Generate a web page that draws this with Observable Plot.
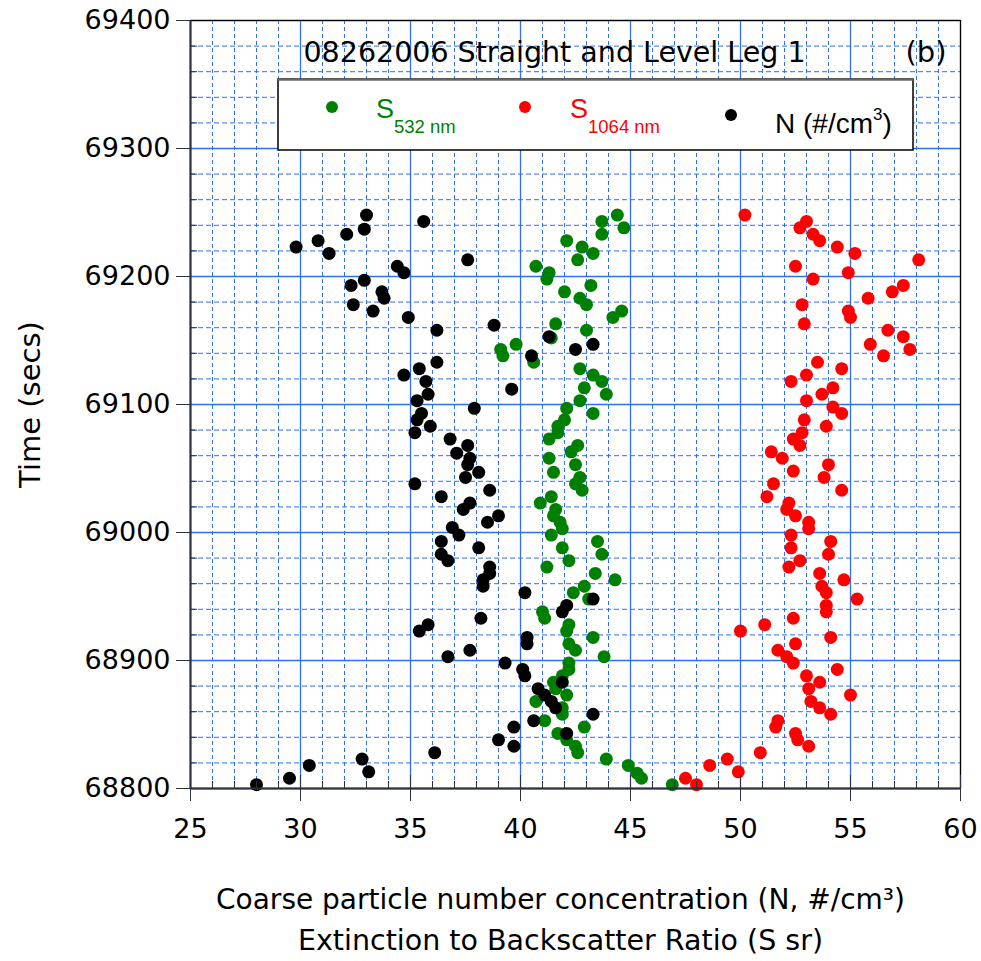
<!DOCTYPE html>
<html><head><meta charset="utf-8">
<script src="https://cdn.jsdelivr.net/npm/d3@7"></script>
<script src="https://cdn.jsdelivr.net/npm/@observablehq/plot@0.6"></script>
<style>body{margin:0;background:#fff}</style>
</head><body><div id="chart"></div>
<script>
// N (#/cm3) : [value, time]
const nPoints = [[33.0,69248],[32.9,69237],[35.6,69243],[32.1,69233],[30.8,69228],[29.8,69223],[31.3,69218],[37.6,69213],[34.4,69208],[34.7,69203],[32.9,69197],[32.3,69193],[33.7,69188],[33.8,69183],[32.4,69178],[33.3,69173],[34.9,69168],[36.2,69158],[38.8,69162],[41.3,69153],[43.3,69147],[42.5,69143],[40.5,69138],[36.2,69133],[35.4,69128],[34.7,69123],[35.7,69118],[39.6,69112],[35.8,69108],[35.3,69103],[37.9,69097],[35.5,69093],[35.3,69088],[35.9,69083],[35.2,69078],[36.8,69073],[37.6,69068],[37.1,69062],[37.7,69058],[37.6,69053],[38.1,69047],[37.5,69043],[35.2,69038],[38.6,69033],[36.4,69028],[37.7,69023],[37.4,69018],[39.0,69013],[38.5,69008],[36.9,69004],[37.2,68998],[36.4,68993],[38.1,68988],[36.4,68983],[36.7,68978],[38.6,68973],[38.6,68968],[38.3,68963],[38.3,68958],[40.2,68953],[43.3,68948],[42.1,68943],[41.9,68938],[38.2,68933],[35.8,68928],[35.4,68923],[40.3,68918],[40.3,68913],[37.7,68908],[36.7,68903],[39.3,68898],[40.1,68893],[40.2,68888],[41.9,68883],[40.8,68878],[41.1,68873],[41.4,68868],[41.6,68863],[43.3,68858],[40.6,68853],[39.7,68848],[42.1,68843],[39.0,68838],[39.7,68833],[36.1,68828],[32.8,68823],[30.4,68818],[33.1,68813],[29.5,68808],[28.0,68803]];
// S 532 nm : [value, time]
const s532Points = [[44.4,69248],[43.7,69243],[44.7,69238],[43.7,69233],[42.1,69228],[42.8,69223],[43.3,69218],[42.6,69213],[40.7,69208],[41.3,69203],[41.2,69198],[43.2,69193],[42.0,69188],[42.7,69183],[43.0,69178],[44.6,69173],[44.2,69168],[41.6,69163],[43.0,69158],[41.4,69152],[39.8,69147],[39.1,69143],[39.2,69138],[40.6,69133],[42.7,69128],[43.3,69123],[43.7,69118],[42.9,69113],[43.9,69108],[42.7,69103],[42.1,69097],[43.3,69093],[42.0,69088],[41.7,69083],[41.7,69078],[41.3,69073],[42.6,69068],[42.3,69063],[41.3,69058],[42.5,69053],[41.5,69047],[42.7,69043],[42.5,69038],[42.8,69033],[41.4,69028],[40.9,69023],[41.6,69018],[41.5,69013],[41.8,69008],[41.9,69003],[41.4,68998],[43.5,68993],[41.9,68988],[43.7,68983],[42.2,68978],[41.2,68973],[43.4,68968],[44.3,68963],[42.9,68958],[42.4,68953],[43.1,68948],[41.0,68938],[41.1,68933],[42.2,68928],[42.1,68923],[43.3,68918],[42.2,68913],[42.5,68908],[43.8,68903],[42.2,68898],[42.2,68893],[41.9,68888],[41.5,68883],[41.6,68878],[42.1,68873],[40.7,68868],[41.9,68863],[41.9,68858],[41.1,68853],[42.9,68848],[41.7,68843],[42.1,68838],[42.5,68833],[42.6,68828],[43.9,68823],[44.9,68818],[45.3,68812],[45.5,68808],[46.9,68803]];
// S 1064 nm : [value, time]
const s1064Points = [[50.2,69248],[53.0,69243],[52.7,69238],[53.3,69233],[53.6,69228],[54.4,69223],[55.2,69218],[58.1,69213],[52.5,69208],[54.9,69203],[53.3,69198],[57.4,69193],[56.9,69188],[55.8,69183],[52.8,69178],[54.9,69173],[55.0,69168],[52.9,69163],[56.7,69158],[57.4,69153],[55.9,69147],[57.7,69143],[56.5,69138],[53.5,69133],[54.6,69128],[53.0,69123],[52.3,69118],[54.2,69113],[53.7,69108],[53.0,69103],[54.2,69098],[54.6,69093],[52.9,69088],[53.9,69083],[52.8,69078],[52.4,69073],[52.7,69068],[51.4,69063],[51.9,69058],[54.0,69053],[52.4,69048],[53.8,69043],[51.5,69038],[54.6,69033],[51.2,69028],[52.2,69023],[52.1,69018],[52.5,69013],[53.1,69008],[53.1,69003],[52.3,68998],[54.1,68993],[52.3,68988],[54.0,68983],[52.7,68978],[52.2,68973],[53.6,68968],[54.7,68963],[53.7,68958],[53.9,68953],[55.3,68948],[53.9,68943],[53.9,68938],[52.4,68933],[51.1,68928],[50.0,68923],[54.1,68918],[52.5,68913],[51.7,68908],[52.1,68903],[52.4,68898],[54.4,68893],[53.0,68888],[53.6,68883],[53.1,68878],[55.0,68873],[53.2,68868],[53.6,68863],[54.1,68858],[51.7,68853],[51.6,68848],[52.5,68843],[52.6,68838],[53.1,68833],[50.9,68828],[49.4,68823],[48.6,68818],[49.9,68813],[47.5,68808],[48.0,68803]];

const xDomain = [25, 60];
const yDomain = [68800, 69400];
const xMajorTicks = [25, 30, 35, 40, 45, 50, 55, 60];
const xMinorTicks = [26,27,28,29,31,32,33,34,36,37,38,39,41,42,43,44,46,47,48,49,51,52,53,54,56,57,58,59];
const yMajorTicks = [68800, 68900, 69000, 69100, 69200, 69300, 69400];
const yMinorTicks = [68820,68840,68860,68880,68920,68940,68960,68980,69020,69040,69060,69080,69120,69140,69160,69180,69220,69240,69260,69280,69320,69340,69360,69380];

const titleText = "08262006 Straight and Level Leg 1";
const panelLabel = "(b)";
const yLabel = "Time (secs)";
const xLabel1 = "Coarse particle number concentration (N, #/cm³)";
const xLabel2 = "Extinction to Backscatter Ratio (S sr)";

const green = "#008000", red = "#ff0000", black = "#000000";
const blue = "#2f6ff0";
const comic = "'DejaVu Sans', sans-serif";
const tickFont = "'DejaVu Sans', sans-serif";
const axisColor = "#2b3140";

const chart = Plot.plot({
  width: 981, height: 961,
  marginLeft: 190, marginRight: 21, marginTop: 20, marginBottom: 173,
  x: {domain: xDomain, label: null},
  y: {domain: yDomain, label: null},
  style: {background: "white", fontFamily: tickFont, fontSize: "27px", color: "black"},
  marks: [
    Plot.gridX(xMinorTicks, {stroke: blue, strokeOpacity: 1, strokeWidth: 1, strokeDasharray: "4,3"}),
    Plot.gridY(yMinorTicks, {stroke: blue, strokeOpacity: 1, strokeWidth: 1, strokeDasharray: "5,3"}),
    Plot.gridX(xMajorTicks, {stroke: blue, strokeOpacity: 1, strokeWidth: 1.3}),
    Plot.gridY(yMajorTicks, {stroke: blue, strokeOpacity: 1, strokeWidth: 1.3}),
    Plot.dot(s532Points, {x: d => d[0], y: d => d[1], r: 6.5, fill: green}),
    Plot.dot(s1064Points, {x: d => d[0], y: d => d[1], r: 6.5, fill: red}),
    Plot.dot(nPoints, {x: d => d[0], y: d => d[1], r: 6.5, fill: black}),
    Plot.frame({stroke: "black", strokeWidth: 1.2}),
    Plot.ruleX([xDomain[0]], {stroke: axisColor, strokeWidth: 2}),
    Plot.ruleY([yDomain[0]], {stroke: axisColor, strokeWidth: 2}),
    Plot.axisX(xMinorTicks, {tickSize: -7, tickFormat: () => "", stroke: axisColor, label: null}),
    Plot.axisX(xMajorTicks, {tickSize: -13, tickFormat: () => "", stroke: axisColor, label: null}),
    Plot.axisY(yMinorTicks, {tickSize: -7, tickFormat: () => "", stroke: axisColor, label: null}),
    Plot.axisX(xMajorTicks, {tickSize: 13, tickPadding: 17, stroke: axisColor, fill: "black", fontSize: 27, label: null}),
    Plot.axisY(yMajorTicks, {tickSize: 14, tickPadding: 6, stroke: axisColor, fill: "black", fontSize: 27, label: null, tickFormat: d => String(d)}),
    Plot.text([titleText], {text: d => d, frameAnchor: "top", lineAnchor: "middle", dx: -21, dy: 32, fontSize: 28.5, fontFamily: comic, fill: "black"}),
    Plot.text([panelLabel], {text: d => d, frameAnchor: "top-right", lineAnchor: "middle", textAnchor: "end", dx: -14, dy: 32, fontSize: 29, fontFamily: comic, fill: "black"}),
    Plot.text([yLabel], {text: d => d, frameAnchor: "left", lineAnchor: "middle", textAnchor: "middle", dx: -160, rotate: -90, fontSize: 29, fontFamily: comic, fill: "black"}),
    Plot.text([xLabel1], {text: d => d, frameAnchor: "bottom", lineAnchor: "middle", dx: -15, dy: 112, fontSize: 28, fontFamily: comic, fill: "black"}),
    Plot.text([xLabel2], {text: d => d, frameAnchor: "bottom", lineAnchor: "middle", dx: -15, dy: 152, fontSize: 28.5, fontFamily: comic, fill: "black"})
  ]
});

// legend box drawn inside the plot area
const svg = d3.select(chart);
const lg = svg.append("g").attr("font-family", "'Liberation Sans', Arial, sans-serif").attr("text-anchor", "start");
lg.append("rect").attr("x", 278).attr("y", 79).attr("width", 635).attr("height", 71)
  .attr("fill", "white").attr("stroke", "black").attr("stroke-width", 1.5);
lg.append("line").attr("x1", 278).attr("x2", 913).attr("y1", 79.5).attr("y2", 79.5)
  .attr("stroke", "#666").attr("stroke-width", 2.5);
const legendItems = [
  {color: green, dot: [332, 107], tx: 376, main: "S", sub: "532 nm"},
  {color: red, dot: [525, 107], tx: 570, main: "S", sub: "1064 nm"}
];
for (const it of legendItems) {
  lg.append("circle").attr("cx", it.dot[0]).attr("cy", it.dot[1]).attr("r", 6).attr("fill", it.color);
  const t = lg.append("text").attr("x", it.tx).attr("y", 118).attr("fill", it.color).attr("font-size", 27);
  t.append("tspan").text(it.main);
  t.append("tspan").attr("dy", 15).attr("font-size", 18.5).text(it.sub);
}
lg.append("circle").attr("cx", 731).attr("cy", 115).attr("r", 6).attr("fill", black);
const nt = lg.append("text").attr("x", 775).attr("y", 133).attr("fill", black).attr("font-size", 28);
nt.append("tspan").text("N (#/cm");
nt.append("tspan").attr("dy", -13).attr("font-size", 17).text("3");
nt.append("tspan").attr("dy", 13).text(")");

document.getElementById("chart").appendChild(chart);
</script>
</body></html>
